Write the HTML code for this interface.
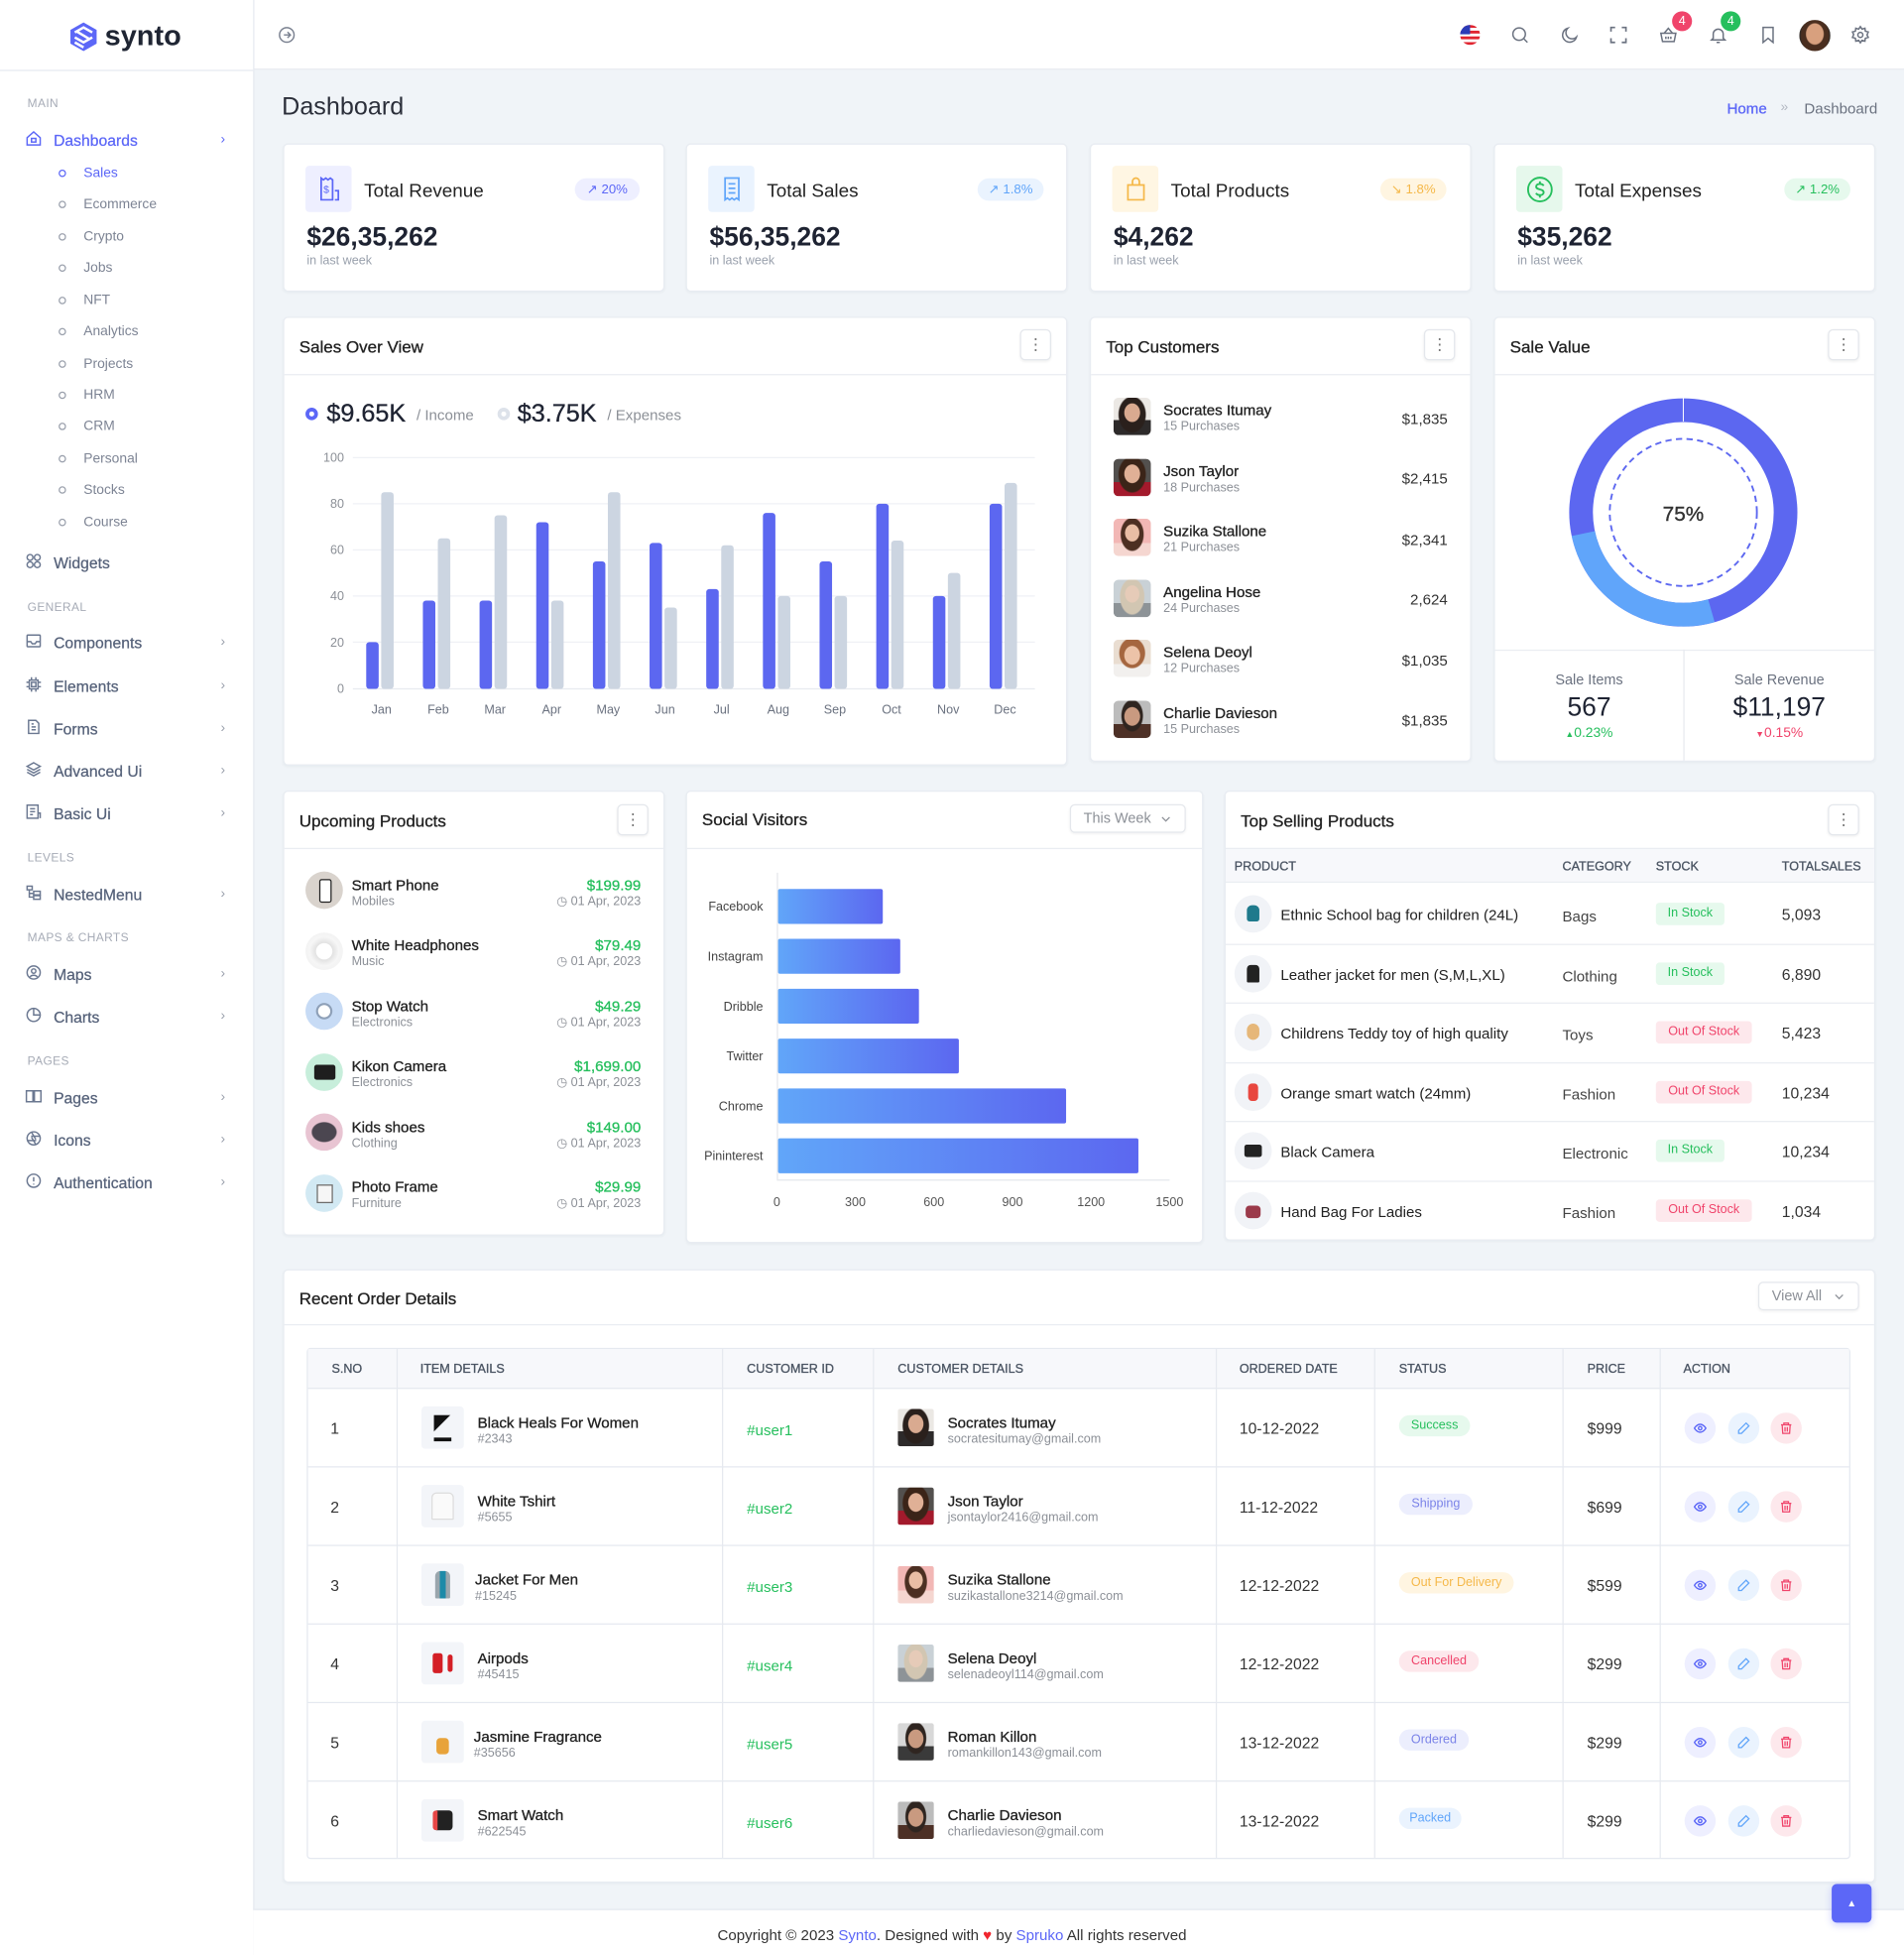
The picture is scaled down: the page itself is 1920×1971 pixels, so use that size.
<!DOCTYPE html>
<html><head><meta charset="utf-8">
<style>
html,body{margin:0;padding:0;width:1920px;height:1971px;overflow:hidden;background:#f0f4f8}
#w{position:absolute;left:0;top:0;width:1527px;height:1568px;transform:scale(1.25737,1.25702);transform-origin:0 0;font-family:"Liberation Sans",Arial,sans-serif;background:#f0f4f8;color:#222;overflow:hidden}
.a{position:absolute}
.t{position:absolute;white-space:nowrap;line-height:1;margin-top:1.6px}
.m{-webkit-text-stroke:.25px currentColor}
.g{color:#8c9097}
.card{position:absolute;background:#fff;border:1px solid #e8ecf2;border-radius:4px;box-sizing:border-box;box-shadow:0 1px 2px rgba(30,40,60,.04)}
.hl{position:absolute;height:1px;background:#eaedf2}
.vl{position:absolute;width:1px;background:#e6e9ef}
.btn{position:absolute;width:25px;height:25px;box-sizing:border-box;border:1px solid #e4e7ec;border-radius:4px;background:#fff;box-shadow:0 1px 2px rgba(0,0,0,.06);display:flex;align-items:center;justify-content:center;color:#777;font-size:13px;line-height:1}
.pill{position:absolute;display:flex;align-items:center;justify-content:center;border-radius:9px;font-size:10px;line-height:1;white-space:nowrap}
.sq{position:absolute;border-radius:3px;display:flex;align-items:center;justify-content:center}
.av{position:absolute;border-radius:4px;overflow:hidden}
.ci{position:absolute;border-radius:50%;overflow:hidden}
.ic{position:absolute}
.sbh{position:absolute;left:22px;font-size:9.5px;color:#a6abb6;letter-spacing:.3px;line-height:1;white-space:nowrap;margin-top:1.5px}
.sbi{position:absolute;left:43px;font-size:12.5px;color:#56627a;line-height:1;white-space:nowrap;-webkit-text-stroke:.2px currentColor;margin-top:1.5px}
.sbs{position:absolute;left:67px;font-size:11px;color:#7d8494;line-height:1;white-space:nowrap;margin-top:1.5px}
.dot{position:absolute;left:47px;width:4px;height:4px;border:1px solid #9aa0ac;border-radius:50%;margin-top:1px}
.chev{position:absolute;left:177px;font-size:11px;color:#9aa0ac;line-height:1;margin-top:1.5px}
.act{position:absolute;width:25px;height:25px;border-radius:50%;display:flex;align-items:center;justify-content:center}
</style></head><body>
<div id="w">

<!-- HEADER -->
<div class="a" style="left:0;top:0;width:1527px;height:56px;background:#fff;border-bottom:1px solid #e6eaf0;box-sizing:border-box"></div>
<!-- SIDEBAR -->
<div class="a" style="left:0;top:0;width:204px;height:1568px;background:#fff;border-right:1px solid #e6eaf0;box-sizing:border-box"></div>
<div class="a" style="left:0;top:56px;width:203px;height:1px;background:#e6eaf0"></div>

<!-- logo -->
<svg class="ic" style="left:55px;top:17px" width="24" height="25" viewBox="0 0 24 25">
<path d="M12 1L22.5 7v11L12 24 1.5 18V7z" fill="#5c67f7"/>
<path d="M5 9l7-4 7 4M5 13l7 4 7-4M5 17l7 4" stroke="#fff" stroke-width="2" fill="none"/>
<path d="M7 8.5l10 6" stroke="#fff" stroke-width="2"/>
</svg>
<div class="t" style="left:84px;top:15.5px;font-size:23px;font-weight:bold;color:#1f2533">synto</div>

<svg class="ic" style="left:223px;top:21px" width="14" height="14" viewBox="0 0 24 24" fill="none" stroke="#7a8190" stroke-width="2"><circle cx="12" cy="12" r="10"/><path d="M8 12h8M13 8l4 4-4 4"/></svg>

<!-- header right icons -->
<svg class="ic" style="left:1170px;top:19px" width="18" height="18" viewBox="0 0 18 18">
<defs><clipPath id="fc"><circle cx="9" cy="9" r="8"/></clipPath></defs>
<g clip-path="url(#fc)"><rect width="18" height="18" fill="#fff"/><rect y="1" width="18" height="2.3" fill="#e0242f"/><rect y="5.6" width="18" height="2.3" fill="#e0242f"/><rect y="10.2" width="18" height="2.3" fill="#e0242f"/><rect y="14.8" width="18" height="2.3" fill="#e0242f"/><rect width="9" height="8.5" fill="#2b3bb8"/></g></svg>
<svg class="ic" style="left:1211px;top:20px" width="16" height="16" viewBox="0 0 24 24" fill="none" stroke="#6b7280" stroke-width="1.8"><circle cx="11" cy="11" r="7.5"/><path d="M17 17l4 4"/></svg>
<svg class="ic" style="left:1251px;top:20px" width="16" height="16" viewBox="0 0 24 24" fill="none" stroke="#6b7280" stroke-width="1.8"><path d="M20 14.5A8.5 8.5 0 119.5 4a7 7 0 0010.5 10.5z"/></svg>
<svg class="ic" style="left:1290px;top:20px" width="16" height="16" viewBox="0 0 24 24" fill="none" stroke="#6b7280" stroke-width="2"><path d="M3 8V3h5M16 3h5v5M21 16v5h-5M8 21H3v-5"/></svg>
<svg class="ic" style="left:1330px;top:20px" width="16" height="16" viewBox="0 0 24 24" fill="none" stroke="#6b7280" stroke-width="1.8"><path d="M3 10h18l-2 10H5z"/><path d="M7 10l5-6 5 6M9 14v3M12 14v3M15 14v3"/></svg>
<div class="ci" style="left:1341px;top:9px;width:16px;height:16px;background:#f0446b;color:#fff;font-size:10px;display:flex;align-items:center;justify-content:center">4</div>
<svg class="ic" style="left:1370px;top:20px" width="16" height="16" viewBox="0 0 24 24" fill="none" stroke="#6b7280" stroke-width="1.8"><path d="M6 16V11a6 6 0 0112 0v5l2 2H4z"/><path d="M10 21h4"/></svg>
<div class="ci" style="left:1380px;top:9px;width:16px;height:16px;background:#26bf5d;color:#fff;font-size:10px;display:flex;align-items:center;justify-content:center">4</div>
<svg class="ic" style="left:1410px;top:20px" width="16" height="16" viewBox="0 0 24 24" fill="none" stroke="#6b7280" stroke-width="1.8"><path d="M6 3h12v18l-6-5-6 5z"/></svg>
<div class="ci" style="left:1443px;top:16px;width:25px;height:25px;background:radial-gradient(ellipse 30% 36% at 50% 45%,#d8a07e 90%,transparent 100%),radial-gradient(ellipse 48% 60% at 50% 50%,#4a2e1f 90%,transparent 100%),#2f2a26"></div>
<svg class="ic" style="left:1484px;top:20px" width="16" height="16" viewBox="0 0 24 24" fill="none" stroke="#6b7280" stroke-width="1.8"><circle cx="12" cy="12" r="3"/><path d="M12 2l2 3 3.5-1 .5 3.5 3.5 1-1.5 3.5 1.5 3-3.5 1-.5 3.5-3.5-1-2 3-2-3-3.5 1-.5-3.5-3.5-1 1.5-3.5L2.5 8.5 6 7.5 6.5 4 10 5z"/></svg>

<!-- SIDEBAR MENU -->
<div class="sbh" style="top:77px">MAIN</div>
<svg class="ic" style="left:20px;top:104px" width="14" height="14" viewBox="0 0 24 24" fill="none" stroke="#5c67f7" stroke-width="2"><path d="M3 11l9-8 9 8v10H3z"/><rect x="9" y="12" width="6" height="5"/></svg>
<div class="sbi" style="top:105px;color:#5c67f7">Dashboards</div>
<div class="chev" style="top:105px;color:#5c67f7">›</div>

<div class="dot" style="top:135px;border-color:#5c67f7"></div><div class="sbs" style="top:132px;color:#5c67f7">Sales</div>
<div class="dot" style="top:160px"></div><div class="sbs" style="top:157px">Ecommerce</div>
<div class="dot" style="top:186px"></div><div class="sbs" style="top:183px">Crypto</div>
<div class="dot" style="top:211px"></div><div class="sbs" style="top:208px">Jobs</div>
<div class="dot" style="top:237px"></div><div class="sbs" style="top:234px">NFT</div>
<div class="dot" style="top:262px"></div><div class="sbs" style="top:259px">Analytics</div>
<div class="dot" style="top:288px"></div><div class="sbs" style="top:285px">Projects</div>
<div class="dot" style="top:313px"></div><div class="sbs" style="top:310px">HRM</div>
<div class="dot" style="top:338px"></div><div class="sbs" style="top:335px">CRM</div>
<div class="dot" style="top:364px"></div><div class="sbs" style="top:361px">Personal</div>
<div class="dot" style="top:389px"></div><div class="sbs" style="top:386px">Stocks</div>
<div class="dot" style="top:415px"></div><div class="sbs" style="top:412px">Course</div>

<svg class="ic" style="left:20px;top:443px" width="14" height="14" viewBox="0 0 24 24" fill="none" stroke="#6b7891" stroke-width="2"><circle cx="7" cy="7" r="4"/><circle cx="17" cy="7" r="4"/><circle cx="7" cy="17" r="4"/><circle cx="17" cy="17" r="4"/></svg>
<div class="sbi" style="top:444px">Widgets</div>

<div class="sbh" style="top:481px">GENERAL</div>
<svg class="ic" style="left:20px;top:507px" width="14" height="14" viewBox="0 0 24 24" fill="none" stroke="#6b7891" stroke-width="2"><rect x="3" y="4" width="18" height="16" rx="1"/><path d="M3 13h5l2 3h4l2-3h5"/></svg>
<div class="sbi" style="top:508px">Components</div><div class="chev" style="top:508px">›</div>
<svg class="ic" style="left:20px;top:542px" width="14" height="14" viewBox="0 0 24 24" fill="none" stroke="#6b7891" stroke-width="2"><rect x="6" y="6" width="12" height="12"/><rect x="9" y="9" width="6" height="6"/><path d="M9 2v4M15 2v4M9 18v4M15 18v4M2 9h4M2 15h4M18 9h4M18 15h4"/></svg>
<div class="sbi" style="top:543px">Elements</div><div class="chev" style="top:543px">›</div>
<svg class="ic" style="left:20px;top:576px" width="14" height="14" viewBox="0 0 24 24" fill="none" stroke="#6b7891" stroke-width="2"><path d="M5 3h10l4 4v14H5z"/><path d="M9 12h6M9 16h6M9 8h3"/></svg>
<div class="sbi" style="top:577px">Forms</div><div class="chev" style="top:577px">›</div>
<svg class="ic" style="left:20px;top:610px" width="14" height="14" viewBox="0 0 24 24" fill="none" stroke="#6b7891" stroke-width="2"><path d="M12 3l9 5-9 5-9-5z"/><path d="M3 12l9 5 9-5M3 16l9 5 9-5"/></svg>
<div class="sbi" style="top:611px">Advanced Ui</div><div class="chev" style="top:611px">›</div>
<svg class="ic" style="left:20px;top:644px" width="14" height="14" viewBox="0 0 24 24" fill="none" stroke="#6b7891" stroke-width="2"><rect x="3" y="3" width="15" height="18"/><path d="M7 8h7M7 12h7M7 16h4M18 14h3v7"/></svg>
<div class="sbi" style="top:645px">Basic Ui</div><div class="chev" style="top:645px">›</div>

<div class="sbh" style="top:682px">LEVELS</div>
<svg class="ic" style="left:20px;top:709px" width="14" height="14" viewBox="0 0 24 24" fill="none" stroke="#6b7891" stroke-width="2"><rect x="3" y="3" width="7" height="5"/><path d="M6 8v10h6M6 13h6"/><rect x="12" y="10" width="9" height="5"/><rect x="12" y="16" width="9" height="5"/></svg>
<div class="sbi" style="top:710px">NestedMenu</div><div class="chev" style="top:710px">›</div>

<div class="sbh" style="top:746px">MAPS &amp; CHARTS</div>
<svg class="ic" style="left:20px;top:773px" width="14" height="14" viewBox="0 0 24 24" fill="none" stroke="#6b7891" stroke-width="2"><circle cx="12" cy="12" r="9"/><circle cx="12" cy="10" r="3"/><path d="M7 18c2-3 8-3 10 0"/></svg>
<div class="sbi" style="top:774px">Maps</div><div class="chev" style="top:774px">›</div>
<svg class="ic" style="left:20px;top:807px" width="14" height="14" viewBox="0 0 24 24" fill="none" stroke="#6b7891" stroke-width="2"><circle cx="12" cy="12" r="9"/><path d="M12 3v9h9"/></svg>
<div class="sbi" style="top:808px">Charts</div><div class="chev" style="top:808px">›</div>

<div class="sbh" style="top:845px">PAGES</div>
<svg class="ic" style="left:20px;top:872px" width="14" height="14" viewBox="0 0 24 24" fill="none" stroke="#6b7891" stroke-width="2"><path d="M2 5h9v15H2zM13 5h9v15h-9z"/></svg>
<div class="sbi" style="top:873px">Pages</div><div class="chev" style="top:873px">›</div>
<svg class="ic" style="left:20px;top:906px" width="14" height="14" viewBox="0 0 24 24" fill="none" stroke="#6b7891" stroke-width="2"><circle cx="12" cy="12" r="9"/><path d="M9 3.5l6 10M20.5 9H8.5M15 20.5l-6-10M3.5 15h12"/></svg>
<div class="sbi" style="top:907px">Icons</div><div class="chev" style="top:907px">›</div>
<svg class="ic" style="left:20px;top:940px" width="14" height="14" viewBox="0 0 24 24" fill="none" stroke="#6b7891" stroke-width="2"><circle cx="12" cy="12" r="9"/><path d="M12 7v6M12 16v1.5"/></svg>
<div class="sbi" style="top:941px">Authentication</div><div class="chev" style="top:941px">›</div>

<!-- PAGE TITLE -->
<div class="t" style="left:226px;top:74px;font-size:20px;color:#2b2f3a">Dashboard</div>
<div class="t m" style="left:1385px;top:79px;font-size:12px;color:#5c67f7">Home</div>
<div class="t" style="left:1428px;top:79px;font-size:11px;color:#b3b8c2">»</div>
<div class="t" style="left:1447px;top:79px;font-size:12px;color:#6b7280">Dashboard</div>

<!-- STAT CARDS -->
<div class="card" style="left:227px;top:115px;width:306px;height:119px"></div>
<div class="card" style="left:550px;top:115px;width:306px;height:119px"></div>
<div class="card" style="left:874px;top:115px;width:306px;height:119px"></div>
<div class="card" style="left:1198px;top:115px;width:306px;height:119px"></div>

<div class="sq" style="left:245px;top:133px;width:37px;height:37px;background:#eeefff">
<svg width="22" height="22" viewBox="0 0 24 24" fill="none" stroke="#5c67f7" stroke-width="1.5"><path d="M5 2l2 1.5 2-1.5 2 1.5 2-1.5 2 1.5V21H5z"/><path d="M17 13h3v8h-3"/><text x="7" y="15" font-size="9" fill="#5c67f7" stroke="none" font-family="Liberation Sans">$</text></svg></div>
<div class="sq" style="left:568px;top:133px;width:37px;height:37px;background:#eaf3fe">
<svg width="22" height="22" viewBox="0 0 24 24" fill="none" stroke="#60a5fa" stroke-width="1.5"><path d="M6 2h12v19l-2-1.5-2 1.5-2-1.5-2 1.5-2-1.5-2 1.5z"/><path d="M9 7h6M9 11h6M9 15h6"/></svg></div>
<div class="sq" style="left:892px;top:133px;width:37px;height:37px;background:#fff6e3">
<svg width="22" height="22" viewBox="0 0 24 24" fill="none" stroke="#f5b849" stroke-width="1.5"><path d="M5 8h14v13H5z"/><path d="M9 8V5a3 3 0 016 0v3"/></svg></div>
<div class="sq" style="left:1216px;top:133px;width:37px;height:37px;background:#e6f8ec">
<svg width="24" height="24" viewBox="0 0 24 24" fill="none" stroke="#26bf5d" stroke-width="1.5"><circle cx="12" cy="12" r="9.5"/><path d="M15 9c-.5-1-1.6-1.5-3-1.5-1.8 0-3 .9-3 2.2 0 3 6 1.5 6 4.6 0 1.3-1.3 2.2-3 2.2-1.5 0-2.6-.6-3.1-1.6M12 5.5v2M12 16.5v2"/></svg></div>

<div class="t" style="left:292px;top:144px;font-size:15px;color:#222">Total Revenue</div>
<div class="t" style="left:615px;top:144px;font-size:15px;color:#222">Total Sales</div>
<div class="t" style="left:939px;top:144px;font-size:15px;color:#222">Total Products</div>
<div class="t" style="left:1263px;top:144px;font-size:15px;color:#222">Total Expenses</div>

<div class="pill" style="left:461px;top:143px;width:52px;height:18px;background:#eeefff;color:#5c67f7;font-size:10.5px">↗ 20%</div>
<div class="pill" style="left:784px;top:143px;width:53px;height:18px;background:#eaf3fe;color:#60a5fa;font-size:10.5px">↗ 1.8%</div>
<div class="pill" style="left:1107px;top:143px;width:53px;height:18px;background:#fff5e1;color:#f5b849;font-size:10.5px">↘ 1.8%</div>
<div class="pill" style="left:1431px;top:143px;width:53px;height:18px;background:#e6f9ed;color:#26bf5d;font-size:10.5px">↗ 1.2%</div>

<div class="t" style="left:246px;top:178px;font-size:21px;font-weight:bold;color:#1e2332">$26,35,262</div>
<div class="t" style="left:569px;top:178px;font-size:21px;font-weight:bold;color:#1e2332">$56,35,262</div>
<div class="t" style="left:893px;top:178px;font-size:21px;font-weight:bold;color:#1e2332">$4,262</div>
<div class="t" style="left:1217px;top:178px;font-size:21px;font-weight:bold;color:#1e2332">$35,262</div>
<div class="t" style="left:246px;top:203px;font-size:10px;color:#9aa1ad">in last week</div>
<div class="t" style="left:569px;top:203px;font-size:10px;color:#9aa1ad">in last week</div>
<div class="t" style="left:893px;top:203px;font-size:10px;color:#9aa1ad">in last week</div>
<div class="t" style="left:1217px;top:203px;font-size:10px;color:#9aa1ad">in last week</div>

<!-- ROW 2 CARDS -->
<div class="card" style="left:227px;top:254px;width:629px;height:360px"></div>
<div class="card" style="left:874px;top:254px;width:306px;height:357px"></div>
<div class="card" style="left:1198px;top:254px;width:306px;height:357px"></div>
<div class="hl" style="left:228px;top:300px;width:627px"></div>
<div class="hl" style="left:875px;top:300px;width:304px"></div>
<div class="hl" style="left:1199px;top:300px;width:304px"></div>

<div class="t m" style="left:240px;top:270px;font-size:13.5px;color:#222">Sales Over View</div>
<div class="t m" style="left:887px;top:270px;font-size:13.5px;color:#222">Top Customers</div>
<div class="t m" style="left:1211px;top:270px;font-size:13.5px;color:#222">Sale Value</div>
<div class="btn" style="left:818px;top:264px">⋮</div>
<div class="btn" style="left:1142px;top:264px">⋮</div>
<div class="btn" style="left:1466px;top:264px">⋮</div>

<!-- legend -->
<div class="a" style="left:245px;top:327px;width:4px;height:4px;border:3px solid #5c67f7;border-radius:50%"></div>
<div class="t m" style="left:262px;top:320px;font-size:20px;color:#1e2332">$9.65K</div>
<div class="t" style="left:334px;top:325px;font-size:12px;color:#8c9097">/ Income</div>
<div class="a" style="left:399px;top:327px;width:4px;height:4px;border:3px solid #dde2ea;border-radius:50%"></div>
<div class="t m" style="left:415px;top:320px;font-size:20px;color:#1e2332">$3.75K</div>
<div class="t" style="left:487px;top:325px;font-size:12px;color:#8c9097">/ Expenses</div>

<!-- customers -->
<div class="av" style="left:893px;top:319px;width:30px;height:30px;background:radial-gradient(ellipse 22% 26% at 50% 40%,#d9aa90 92%,transparent 100%),radial-gradient(ellipse 38% 50% at 50% 45%,#2a201c 92%,transparent 100%),linear-gradient(#ebe8e4 60%,#2d2a2a 60%)"></div>
<div class="av" style="left:893px;top:368px;width:30px;height:30px;background:radial-gradient(ellipse 22% 26% at 50% 40%,#e0b096 92%,transparent 100%),radial-gradient(ellipse 38% 50% at 50% 42%,#3b2418 92%,transparent 100%),linear-gradient(#53504e 62%,#a31a2c 62%)"></div>
<div class="av" style="left:893px;top:416px;width:30px;height:30px;background:radial-gradient(ellipse 20% 24% at 50% 38%,#e9bea5 92%,transparent 100%),radial-gradient(ellipse 32% 46% at 50% 42%,#4c2f22 92%,transparent 100%),linear-gradient(#f2b7b5 65%,#f5d6d0 65%)"></div>
<div class="av" style="left:893px;top:465px;width:30px;height:30px;background:radial-gradient(ellipse 20% 24% at 50% 38%,#e6cbb8 92%,transparent 100%),radial-gradient(ellipse 34% 50% at 50% 45%,#d2c6b2 92%,transparent 100%),linear-gradient(#c9d1d6 62%,#8d9397 62%)"></div>
<div class="av" style="left:893px;top:513px;width:30px;height:30px;background:radial-gradient(ellipse 22% 26% at 50% 42%,#ecc3a8 92%,transparent 100%),radial-gradient(ellipse 36% 42% at 50% 36%,#a5663f 92%,transparent 100%),linear-gradient(#e9ddd1 65%,#f2f0ee 65%)"></div>
<div class="av" style="left:893px;top:562px;width:30px;height:30px;background:radial-gradient(ellipse 22% 26% at 50% 42%,#c99a80 92%,transparent 100%),radial-gradient(ellipse 30% 44% at 50% 40%,#2f2520 92%,transparent 100%),linear-gradient(#bcbcbc 62%,#4d3026 62%)"></div>

<div class="t m" style="left:933px;top:321px;font-size:12px;color:#222">Socrates Itumay</div>
<div class="t g" style="left:933px;top:336px;font-size:10px">15 Purchases</div>
<div class="t m" style="left:933px;top:370px;font-size:12px;color:#222">Json Taylor</div>
<div class="t g" style="left:933px;top:385px;font-size:10px">18 Purchases</div>
<div class="t m" style="left:933px;top:418px;font-size:12px;color:#222">Suzika Stallone</div>
<div class="t g" style="left:933px;top:433px;font-size:10px">21 Purchases</div>
<div class="t m" style="left:933px;top:467px;font-size:12px;color:#222">Angelina Hose</div>
<div class="t g" style="left:933px;top:482px;font-size:10px">24 Purchases</div>
<div class="t m" style="left:933px;top:515px;font-size:12px;color:#222">Selena Deoyl</div>
<div class="t g" style="left:933px;top:530px;font-size:10px">12 Purchases</div>
<div class="t m" style="left:933px;top:564px;font-size:12px;color:#222">Charlie Davieson</div>
<div class="t g" style="left:933px;top:579px;font-size:10px">15 Purchases</div>

<div class="t" style="right:366px;top:328px;font-size:12px;color:#333">$1,835</div>
<div class="t" style="right:366px;top:376px;font-size:12px;color:#333">$2,415</div>
<div class="t" style="right:366px;top:425px;font-size:12px;color:#333">$2,341</div>
<div class="t" style="right:366px;top:473px;font-size:12px;color:#333">2,624</div>
<div class="t" style="right:366px;top:522px;font-size:12px;color:#333">$1,035</div>
<div class="t" style="right:366px;top:570px;font-size:12px;color:#333">$1,835</div>

<!-- sale value bottom -->
<div class="hl" style="left:1199px;top:521px;width:304px"></div>
<div class="vl" style="left:1350px;top:521px;height:89px"></div>
<div class="t" style="left:1199px;width:151px;text-align:center;top:539px;font-size:11.5px;color:#6b7280">Sale Items</div>
<div class="t" style="left:1199px;width:151px;text-align:center;top:555px;font-size:21px;color:#1e2332">567</div>
<div class="t" style="left:1199px;width:151px;text-align:center;top:581px;font-size:11px;color:#26bf5d"><span style="font-size:7px">▲</span>0.23%</div>
<div class="t" style="left:1351px;width:152px;text-align:center;top:539px;font-size:11.5px;color:#6b7280">Sale Revenue</div>
<div class="t" style="left:1351px;width:152px;text-align:center;top:555px;font-size:21px;color:#1e2332">$11,197</div>
<div class="t" style="left:1351px;width:152px;text-align:center;top:581px;font-size:11px;color:#f0446b"><span style="font-size:7px">▼</span>0.15%</div>

<!-- ROW 3 CARDS -->
<div class="card" style="left:227px;top:634px;width:306px;height:357px"></div>
<div class="card" style="left:550px;top:634px;width:415px;height:363px"></div>
<div class="card" style="left:982px;top:634px;width:522px;height:361px"></div>
<div class="hl" style="left:228px;top:680px;width:304px"></div>
<div class="hl" style="left:551px;top:680px;width:413px"></div>

<div class="t m" style="left:240px;top:650px;font-size:13.5px;color:#222">Upcoming Products</div>
<div class="t m" style="left:563px;top:649px;font-size:13.5px;color:#222">Social Visitors</div>
<div class="t m" style="left:995px;top:650px;font-size:13.5px;color:#222">Top Selling Products</div>
<div class="btn" style="left:495px;top:645px">⋮</div>
<div class="btn" style="left:1466px;top:645px">⋮</div>
<div class="a" style="left:858px;top:645px;width:93px;height:23px;border:1px solid #e4e7ec;border-radius:4px;box-sizing:border-box;box-shadow:0 1px 2px rgba(0,0,0,.05)"></div>
<div class="t" style="left:869px;top:650px;font-size:11.5px;color:#8c9097">This Week</div>
<svg class="ic" style="left:931px;top:654px" width="8" height="6" viewBox="0 0 8 6"><path d="M1 1.5l3 3 3-3" stroke="#8c9097" fill="none" stroke-width="1"/></svg>

<!-- upcoming items -->
<div class="ci" style="left:245px;top:699px;width:30px;height:30px;background:#d9d3cd"><div class="a" style="left:11px;top:6px;width:8px;height:17px;background:#fff;border:1.5px solid #222;border-radius:2px"></div></div>
<div class="ci" style="left:245px;top:748px;width:30px;height:30px;background:radial-gradient(circle at 50% 50%,#fff 30%,#e2e2e2 32%,#f6f6f6 55%,#ececec 100%)"></div>
<div class="ci" style="left:245px;top:796px;width:30px;height:30px;background:radial-gradient(circle at 50% 50%,#fff 22%,#8ea0b8 24%,#8ea0b8 30%,#c7dbf5 32%)"></div>
<div class="ci" style="left:245px;top:845px;width:30px;height:30px;background:#c7eedb"><div class="a" style="left:7px;top:9px;width:17px;height:12px;background:#1e1e1e;border-radius:2px"></div></div>
<div class="ci" style="left:245px;top:893px;width:30px;height:30px;background:radial-gradient(ellipse 35% 28% at 50% 50%,#4b4650 90%,transparent 100%),#e8c4d2"></div>
<div class="ci" style="left:245px;top:942px;width:30px;height:30px;background:#d2e9f3"><div class="a" style="left:9px;top:8px;width:11px;height:13px;border:1.5px solid #6b6b6b;background:#f6f6f6"></div></div>

<div class="t m" style="left:282px;top:702px;font-size:12px;color:#222">Smart Phone</div>
<div class="t g" style="left:282px;top:717px;font-size:10px">Mobiles</div>
<div class="t m" style="left:282px;top:750px;font-size:12px;color:#222">White Headphones</div>
<div class="t g" style="left:282px;top:765px;font-size:10px">Music</div>
<div class="t m" style="left:282px;top:799px;font-size:12px;color:#222">Stop Watch</div>
<div class="t g" style="left:282px;top:814px;font-size:10px">Electronics</div>
<div class="t m" style="left:282px;top:847px;font-size:12px;color:#222">Kikon Camera</div>
<div class="t g" style="left:282px;top:862px;font-size:10px">Electronics</div>
<div class="t m" style="left:282px;top:896px;font-size:12px;color:#222">Kids shoes</div>
<div class="t g" style="left:282px;top:911px;font-size:10px">Clothing</div>
<div class="t m" style="left:282px;top:944px;font-size:12px;color:#222">Photo Frame</div>
<div class="t g" style="left:282px;top:959px;font-size:10px">Furniture</div>

<div class="t m" style="right:1013px;top:702px;font-size:12px;color:#26bf5d">$199.99</div>
<div class="t m" style="right:1013px;top:750px;font-size:12px;color:#26bf5d">$79.49</div>
<div class="t m" style="right:1013px;top:799px;font-size:12px;color:#26bf5d">$49.29</div>
<div class="t m" style="right:1013px;top:847px;font-size:12px;color:#26bf5d">$1,699.00</div>
<div class="t m" style="right:1013px;top:896px;font-size:12px;color:#26bf5d">$149.00</div>
<div class="t m" style="right:1013px;top:944px;font-size:12px;color:#26bf5d">$29.99</div>
<div class="t g" style="right:1013px;top:717px;font-size:10px">◷ 01 Apr, 2023</div>
<div class="t g" style="right:1013px;top:765px;font-size:10px">◷ 01 Apr, 2023</div>
<div class="t g" style="right:1013px;top:814px;font-size:10px">◷ 01 Apr, 2023</div>
<div class="t g" style="right:1013px;top:862px;font-size:10px">◷ 01 Apr, 2023</div>
<div class="t g" style="right:1013px;top:911px;font-size:10px">◷ 01 Apr, 2023</div>
<div class="t g" style="right:1013px;top:959px;font-size:10px">◷ 01 Apr, 2023</div>

<!-- top selling table -->
<div class="a" style="left:983px;top:680px;width:520px;height:28px;background:#f7f8fb;border-top:1px solid #eaedf2;border-bottom:1px solid #eaedf2;box-sizing:border-box"></div>
<div class="t m" style="left:990px;top:689px;font-size:10px;color:#4b5563">PRODUCT</div>
<div class="t m" style="left:1253px;top:689px;font-size:10px;color:#4b5563">CATEGORY</div>
<div class="t m" style="left:1328px;top:689px;font-size:10px;color:#4b5563">STOCK</div>
<div class="t m" style="left:1429px;top:689px;font-size:10px;color:#4b5563">TOTALSALES</div>
<div class="hl" style="left:983px;top:757px;width:520px"></div>
<div class="hl" style="left:983px;top:804px;width:520px"></div>
<div class="hl" style="left:983px;top:852px;width:520px"></div>
<div class="hl" style="left:983px;top:899px;width:520px"></div>
<div class="hl" style="left:983px;top:947px;width:520px"></div>

<div class="ci" style="left:990px;top:718px;width:30px;height:30px;background:#f1f3f7"><div class="a" style="left:10px;top:8px;width:10px;height:13px;background:#1f7a8c;border-radius:4px 4px 2px 2px"></div></div>
<div class="ci" style="left:990px;top:766px;width:30px;height:30px;background:#f1f3f7"><div class="a" style="left:10px;top:8px;width:10px;height:14px;background:#222;border-radius:3px 3px 1px 1px"></div></div>
<div class="ci" style="left:990px;top:813px;width:30px;height:30px;background:#f1f3f7"><div class="a" style="left:10px;top:8px;width:10px;height:13px;background:#e6b779;border-radius:5px"></div></div>
<div class="ci" style="left:990px;top:861px;width:30px;height:30px;background:#f1f3f7"><div class="a" style="left:11px;top:8px;width:8px;height:14px;background:#e8473f;border-radius:3px"></div></div>
<div class="ci" style="left:990px;top:908px;width:30px;height:30px;background:#f1f3f7"><div class="a" style="left:8px;top:10px;width:14px;height:10px;background:#222;border-radius:2px"></div></div>
<div class="ci" style="left:990px;top:956px;width:30px;height:30px;background:#f1f3f7"><div class="a" style="left:9px;top:11px;width:12px;height:10px;background:#9b3a4a;border-radius:3px"></div></div>

<div class="t" style="left:1027px;top:726px;font-size:12px;color:#222">Ethnic School bag for children (24L)</div>
<div class="t" style="left:1027px;top:774px;font-size:12px;color:#222">Leather jacket for men (S,M,L,XL)</div>
<div class="t" style="left:1027px;top:821px;font-size:12px;color:#222">Childrens Teddy toy of high quality</div>
<div class="t" style="left:1027px;top:869px;font-size:12px;color:#222">Orange smart watch (24mm)</div>
<div class="t" style="left:1027px;top:916px;font-size:12px;color:#222">Black Camera</div>
<div class="t" style="left:1027px;top:964px;font-size:12px;color:#222">Hand Bag For Ladies</div>

<div class="t" style="left:1253px;top:727px;font-size:12px;color:#444">Bags</div>
<div class="t" style="left:1253px;top:775px;font-size:12px;color:#444">Clothing</div>
<div class="t" style="left:1253px;top:822px;font-size:12px;color:#444">Toys</div>
<div class="t" style="left:1253px;top:870px;font-size:12px;color:#444">Fashion</div>
<div class="t" style="left:1253px;top:917px;font-size:12px;color:#444">Electronic</div>
<div class="t" style="left:1253px;top:965px;font-size:12px;color:#444">Fashion</div>

<div class="pill" style="left:1328px;top:724px;width:55px;height:18px;border-radius:3px;background:#e6f9ed;color:#26bf5d">In Stock</div>
<div class="pill" style="left:1328px;top:772px;width:55px;height:18px;border-radius:3px;background:#e6f9ed;color:#26bf5d">In Stock</div>
<div class="pill" style="left:1328px;top:819px;width:77px;height:18px;border-radius:3px;background:#fde8ec;color:#f0446b">Out Of Stock</div>
<div class="pill" style="left:1328px;top:867px;width:77px;height:18px;border-radius:3px;background:#fde8ec;color:#f0446b">Out Of Stock</div>
<div class="pill" style="left:1328px;top:914px;width:55px;height:18px;border-radius:3px;background:#e6f9ed;color:#26bf5d">In Stock</div>
<div class="pill" style="left:1328px;top:962px;width:77px;height:18px;border-radius:3px;background:#fde8ec;color:#f0446b">Out Of Stock</div>

<div class="t" style="left:1429px;top:726px;font-size:12.5px;color:#333">5,093</div>
<div class="t" style="left:1429px;top:774px;font-size:12.5px;color:#333">6,890</div>
<div class="t" style="left:1429px;top:821px;font-size:12.5px;color:#333">5,423</div>
<div class="t" style="left:1429px;top:869px;font-size:12.5px;color:#333">10,234</div>
<div class="t" style="left:1429px;top:916px;font-size:12.5px;color:#333">10,234</div>
<div class="t" style="left:1429px;top:964px;font-size:12.5px;color:#333">1,034</div>

<!-- RECENT ORDERS -->
<div class="card" style="left:227px;top:1018px;width:1277px;height:492px"></div>
<div class="hl" style="left:228px;top:1062px;width:1275px"></div>
<div class="t m" style="left:240px;top:1033px;font-size:13.5px;color:#222">Recent Order Details</div>
<div class="a" style="left:1410px;top:1028px;width:81px;height:23px;border:1px solid #e4e7ec;border-radius:4px;box-sizing:border-box;box-shadow:0 1px 2px rgba(0,0,0,.05)"></div>
<div class="t" style="left:1421px;top:1033px;font-size:11.5px;color:#8c9097">View All</div>
<svg class="ic" style="left:1471px;top:1037px" width="8" height="6" viewBox="0 0 8 6"><path d="M1 1.5l3 3 3-3" stroke="#8c9097" fill="none" stroke-width="1"/></svg>

<div class="a" style="left:246px;top:1081px;width:1238px;height:410px;border:1px solid #e5e9f0;box-sizing:border-box;border-radius:3px"></div>
<div class="a" style="left:247px;top:1082px;width:1236px;height:31px;background:#f7f8fb"></div>
<div class="hl" style="left:247px;top:1113px;width:1236px;background:#e5e9f0"></div>
<div class="hl" style="left:247px;top:1176px;width:1236px;background:#e5e9f0"></div>
<div class="hl" style="left:247px;top:1239px;width:1236px;background:#e5e9f0"></div>
<div class="hl" style="left:247px;top:1302px;width:1236px;background:#e5e9f0"></div>
<div class="hl" style="left:247px;top:1365px;width:1236px;background:#e5e9f0"></div>
<div class="hl" style="left:247px;top:1428px;width:1236px;background:#e5e9f0"></div>
<div class="vl" style="left:318px;top:1082px;height:408px"></div>
<div class="vl" style="left:579px;top:1082px;height:408px"></div>
<div class="vl" style="left:700px;top:1082px;height:408px"></div>
<div class="vl" style="left:975px;top:1082px;height:408px"></div>
<div class="vl" style="left:1102px;top:1082px;height:408px"></div>
<div class="vl" style="left:1253px;top:1082px;height:408px"></div>
<div class="vl" style="left:1331px;top:1082px;height:408px"></div>

<div class="t m" style="left:266px;top:1092px;font-size:10px;color:#4b5563">S.NO</div>
<div class="t m" style="left:337px;top:1092px;font-size:10px;color:#4b5563">ITEM DETAILS</div>
<div class="t m" style="left:599px;top:1092px;font-size:10px;color:#4b5563">CUSTOMER ID</div>
<div class="t m" style="left:720px;top:1092px;font-size:10px;color:#4b5563">CUSTOMER DETAILS</div>
<div class="t m" style="left:994px;top:1092px;font-size:10px;color:#4b5563">ORDERED DATE</div>
<div class="t m" style="left:1122px;top:1092px;font-size:10px;color:#4b5563">STATUS</div>
<div class="t m" style="left:1273px;top:1092px;font-size:10px;color:#4b5563">PRICE</div>
<div class="t m" style="left:1350px;top:1092px;font-size:10px;color:#4b5563">ACTION</div>

<div class="t" style="left:265px;top:1138px;font-size:12.5px;color:#333">1</div>
<div class="t" style="left:265px;top:1201px;font-size:12.5px;color:#333">2</div>
<div class="t" style="left:265px;top:1264px;font-size:12.5px;color:#333">3</div>
<div class="t" style="left:265px;top:1327px;font-size:12.5px;color:#333">4</div>
<div class="t" style="left:265px;top:1390px;font-size:12.5px;color:#333">5</div>
<div class="t" style="left:265px;top:1453px;font-size:12.5px;color:#333">6</div>

<div class="sq" style="left:338px;top:1128px;width:34px;height:34px;background:#f3f5f9"><div style="width:14px;height:18px;background:linear-gradient(135deg,#111 40%,transparent 42%);border-bottom:3px solid #111"></div></div>
<div class="sq" style="left:338px;top:1191px;width:34px;height:34px;background:#f3f5f9"><div style="width:16px;height:20px;background:#fafafa;border:1px solid #ddd;border-radius:4px 4px 1px 1px"></div></div>
<div class="sq" style="left:338px;top:1254px;width:34px;height:34px;background:#f3f5f9"><div style="width:12px;height:22px;background:linear-gradient(90deg,#9aa6ad 0 30%,#1d8aa8 30% 70%,#9aa6ad 70%);border-radius:4px 4px 1px 1px"></div></div>
<div class="sq" style="left:338px;top:1317px;width:34px;height:34px;background:#f3f5f9"><div style="width:8px;height:16px;background:#d41f26;border-radius:2px;margin-right:4px"></div><div style="width:4px;height:14px;background:#d41f26;border-radius:2px"></div></div>
<div class="sq" style="left:338px;top:1380px;width:34px;height:34px;background:#f3f5f9"><div style="width:10px;height:13px;background:#e8a33a;border-radius:3px;margin-top:6px"></div></div>
<div class="sq" style="left:338px;top:1443px;width:34px;height:34px;background:#f3f5f9"><div style="width:12px;height:16px;background:#222;border-left:4px solid #e64646;border-radius:3px"></div></div>

<div class="t m" style="left:383px;top:1133px;font-size:12px;color:#222">Black Heals For Women</div>
<div class="t g" style="left:383px;top:1148px;font-size:10px">#2343</div>
<div class="t m" style="left:383px;top:1196px;font-size:12px;color:#222">White Tshirt</div>
<div class="t g" style="left:383px;top:1211px;font-size:10px">#5655</div>
<div class="t m" style="left:381px;top:1259px;font-size:12px;color:#222">Jacket For Men</div>
<div class="t g" style="left:381px;top:1274px;font-size:10px">#15245</div>
<div class="t m" style="left:383px;top:1322px;font-size:12px;color:#222">Airpods</div>
<div class="t g" style="left:383px;top:1337px;font-size:10px">#45415</div>
<div class="t m" style="left:380px;top:1385px;font-size:12px;color:#222">Jasmine Fragrance</div>
<div class="t g" style="left:380px;top:1400px;font-size:10px">#35656</div>
<div class="t m" style="left:383px;top:1448px;font-size:12px;color:#222">Smart Watch</div>
<div class="t g" style="left:383px;top:1463px;font-size:10px">#622545</div>

<div class="t" style="left:599px;top:1139px;font-size:12px;color:#26bf5d">#user1</div>
<div class="t" style="left:599px;top:1202px;font-size:12px;color:#26bf5d">#user2</div>
<div class="t" style="left:599px;top:1265px;font-size:12px;color:#26bf5d">#user3</div>
<div class="t" style="left:599px;top:1328px;font-size:12px;color:#26bf5d">#user4</div>
<div class="t" style="left:599px;top:1391px;font-size:12px;color:#26bf5d">#user5</div>
<div class="t" style="left:599px;top:1454px;font-size:12px;color:#26bf5d">#user6</div>

<div class="av" style="left:720px;top:1130px;width:29px;height:30px;border-radius:2px;background:radial-gradient(ellipse 22% 26% at 50% 40%,#d9aa90 92%,transparent 100%),radial-gradient(ellipse 38% 50% at 50% 45%,#2a201c 92%,transparent 100%),linear-gradient(#ebe8e4 60%,#2d2a2a 60%)"></div>
<div class="av" style="left:720px;top:1193px;width:29px;height:30px;border-radius:2px;background:radial-gradient(ellipse 22% 26% at 50% 40%,#e0b096 92%,transparent 100%),radial-gradient(ellipse 38% 50% at 50% 42%,#3b2418 92%,transparent 100%),linear-gradient(#53504e 62%,#a31a2c 62%)"></div>
<div class="av" style="left:720px;top:1256px;width:29px;height:30px;border-radius:2px;background:radial-gradient(ellipse 20% 24% at 50% 38%,#e9bea5 92%,transparent 100%),radial-gradient(ellipse 32% 46% at 50% 42%,#4c2f22 92%,transparent 100%),linear-gradient(#f2b7b5 65%,#f5d6d0 65%)"></div>
<div class="av" style="left:720px;top:1319px;width:29px;height:30px;border-radius:2px;background:radial-gradient(ellipse 20% 24% at 50% 38%,#e6cbb8 92%,transparent 100%),radial-gradient(ellipse 34% 50% at 50% 45%,#d2c6b2 92%,transparent 100%),linear-gradient(#c9d1d6 62%,#8d9397 62%)"></div>
<div class="av" style="left:720px;top:1382px;width:29px;height:30px;border-radius:2px;background:radial-gradient(ellipse 22% 26% at 50% 42%,#c99a80 92%,transparent 100%),radial-gradient(ellipse 30% 44% at 50% 40%,#2f2520 92%,transparent 100%),linear-gradient(#d8d8d8 62%,#3a3a3a 62%)"></div>
<div class="av" style="left:720px;top:1445px;width:29px;height:30px;border-radius:2px;background:radial-gradient(ellipse 22% 26% at 50% 42%,#c99a80 92%,transparent 100%),radial-gradient(ellipse 30% 44% at 50% 40%,#2f2520 92%,transparent 100%),linear-gradient(#bcbcbc 62%,#4d3026 62%)"></div>

<div class="t m" style="left:760px;top:1133px;font-size:12px;color:#222">Socrates Itumay</div>
<div class="t g" style="left:760px;top:1148px;font-size:10px">socratesitumay@gmail.com</div>
<div class="t m" style="left:760px;top:1196px;font-size:12px;color:#222">Json Taylor</div>
<div class="t g" style="left:760px;top:1211px;font-size:10px">jsontaylor2416@gmail.com</div>
<div class="t m" style="left:760px;top:1259px;font-size:12px;color:#222">Suzika Stallone</div>
<div class="t g" style="left:760px;top:1274px;font-size:10px">suzikastallone3214@gmail.com</div>
<div class="t m" style="left:760px;top:1322px;font-size:12px;color:#222">Selena Deoyl</div>
<div class="t g" style="left:760px;top:1337px;font-size:10px">selenadeoyl114@gmail.com</div>
<div class="t m" style="left:760px;top:1385px;font-size:12px;color:#222">Roman Killon</div>
<div class="t g" style="left:760px;top:1400px;font-size:10px">romankillon143@gmail.com</div>
<div class="t m" style="left:760px;top:1448px;font-size:12px;color:#222">Charlie Davieson</div>
<div class="t g" style="left:760px;top:1463px;font-size:10px">charliedavieson@gmail.com</div>

<div class="t" style="left:994px;top:1138px;font-size:12.5px;color:#333">10-12-2022</div>
<div class="t" style="left:994px;top:1201px;font-size:12.5px;color:#333">11-12-2022</div>
<div class="t" style="left:994px;top:1264px;font-size:12.5px;color:#333">12-12-2022</div>
<div class="t" style="left:994px;top:1327px;font-size:12.5px;color:#333">12-12-2022</div>
<div class="t" style="left:994px;top:1390px;font-size:12.5px;color:#333">13-12-2022</div>
<div class="t" style="left:994px;top:1453px;font-size:12.5px;color:#333">13-12-2022</div>

<div class="pill" style="left:1122px;top:1135px;width:57px;height:17px;background:#e6f9ed;color:#26bf5d">Success</div>
<div class="pill" style="left:1122px;top:1198px;width:59px;height:17px;background:#eceefd;color:#7b83e8">Shipping</div>
<div class="pill" style="left:1122px;top:1261px;width:92px;height:17px;background:#fff5e1;color:#f5b849">Out For Delivery</div>
<div class="pill" style="left:1122px;top:1324px;width:64px;height:17px;background:#fde8ec;color:#f0446b">Cancelled</div>
<div class="pill" style="left:1122px;top:1387px;width:56px;height:17px;background:#eceefd;color:#7b83e8">Ordered</div>
<div class="pill" style="left:1122px;top:1450px;width:50px;height:17px;background:#eaf3fe;color:#60a5fa">Packed</div>

<div class="t" style="left:1273px;top:1138px;font-size:12.5px;color:#333">$999</div>
<div class="t" style="left:1273px;top:1201px;font-size:12.5px;color:#333">$699</div>
<div class="t" style="left:1273px;top:1264px;font-size:12.5px;color:#333">$599</div>
<div class="t" style="left:1273px;top:1327px;font-size:12.5px;color:#333">$299</div>
<div class="t" style="left:1273px;top:1390px;font-size:12.5px;color:#333">$299</div>
<div class="t" style="left:1273px;top:1453px;font-size:12.5px;color:#333">$299</div>

<!-- action buttons -->
<div class="act" style="left:1351px;top:1133px;background:#eeefff"><svg width="11" height="11" viewBox="0 0 24 24" fill="none" stroke="#5c67f7" stroke-width="2.4"><path d="M2 12s4-7 10-7 10 7 10 7-4 7-10 7S2 12 2 12z"/><circle cx="12" cy="12" r="3"/></svg></div>
<div class="act" style="left:1386px;top:1133px;background:#eaf3fe"><svg width="11" height="11" viewBox="0 0 24 24" fill="none" stroke="#60a5fa" stroke-width="2.2"><path d="M16 3l5 5L8 21H3v-5z"/></svg></div>
<div class="act" style="left:1420px;top:1133px;background:#fde8ec"><svg width="11" height="11" viewBox="0 0 24 24" fill="none" stroke="#f0446b" stroke-width="2.2"><path d="M3 6h18M8 6V3h8v3M5 6l1 15h12l1-15M10 10v8M14 10v8"/></svg></div>
<div class="act" style="left:1351px;top:1196px;background:#eeefff"><svg width="11" height="11" viewBox="0 0 24 24" fill="none" stroke="#5c67f7" stroke-width="2.4"><path d="M2 12s4-7 10-7 10 7 10 7-4 7-10 7S2 12 2 12z"/><circle cx="12" cy="12" r="3"/></svg></div>
<div class="act" style="left:1386px;top:1196px;background:#eaf3fe"><svg width="11" height="11" viewBox="0 0 24 24" fill="none" stroke="#60a5fa" stroke-width="2.2"><path d="M16 3l5 5L8 21H3v-5z"/></svg></div>
<div class="act" style="left:1420px;top:1196px;background:#fde8ec"><svg width="11" height="11" viewBox="0 0 24 24" fill="none" stroke="#f0446b" stroke-width="2.2"><path d="M3 6h18M8 6V3h8v3M5 6l1 15h12l1-15M10 10v8M14 10v8"/></svg></div>
<div class="act" style="left:1351px;top:1259px;background:#eeefff"><svg width="11" height="11" viewBox="0 0 24 24" fill="none" stroke="#5c67f7" stroke-width="2.4"><path d="M2 12s4-7 10-7 10 7 10 7-4 7-10 7S2 12 2 12z"/><circle cx="12" cy="12" r="3"/></svg></div>
<div class="act" style="left:1386px;top:1259px;background:#eaf3fe"><svg width="11" height="11" viewBox="0 0 24 24" fill="none" stroke="#60a5fa" stroke-width="2.2"><path d="M16 3l5 5L8 21H3v-5z"/></svg></div>
<div class="act" style="left:1420px;top:1259px;background:#fde8ec"><svg width="11" height="11" viewBox="0 0 24 24" fill="none" stroke="#f0446b" stroke-width="2.2"><path d="M3 6h18M8 6V3h8v3M5 6l1 15h12l1-15M10 10v8M14 10v8"/></svg></div>
<div class="act" style="left:1351px;top:1322px;background:#eeefff"><svg width="11" height="11" viewBox="0 0 24 24" fill="none" stroke="#5c67f7" stroke-width="2.4"><path d="M2 12s4-7 10-7 10 7 10 7-4 7-10 7S2 12 2 12z"/><circle cx="12" cy="12" r="3"/></svg></div>
<div class="act" style="left:1386px;top:1322px;background:#eaf3fe"><svg width="11" height="11" viewBox="0 0 24 24" fill="none" stroke="#60a5fa" stroke-width="2.2"><path d="M16 3l5 5L8 21H3v-5z"/></svg></div>
<div class="act" style="left:1420px;top:1322px;background:#fde8ec"><svg width="11" height="11" viewBox="0 0 24 24" fill="none" stroke="#f0446b" stroke-width="2.2"><path d="M3 6h18M8 6V3h8v3M5 6l1 15h12l1-15M10 10v8M14 10v8"/></svg></div>
<div class="act" style="left:1351px;top:1385px;background:#eeefff"><svg width="11" height="11" viewBox="0 0 24 24" fill="none" stroke="#5c67f7" stroke-width="2.4"><path d="M2 12s4-7 10-7 10 7 10 7-4 7-10 7S2 12 2 12z"/><circle cx="12" cy="12" r="3"/></svg></div>
<div class="act" style="left:1386px;top:1385px;background:#eaf3fe"><svg width="11" height="11" viewBox="0 0 24 24" fill="none" stroke="#60a5fa" stroke-width="2.2"><path d="M16 3l5 5L8 21H3v-5z"/></svg></div>
<div class="act" style="left:1420px;top:1385px;background:#fde8ec"><svg width="11" height="11" viewBox="0 0 24 24" fill="none" stroke="#f0446b" stroke-width="2.2"><path d="M3 6h18M8 6V3h8v3M5 6l1 15h12l1-15M10 10v8M14 10v8"/></svg></div>
<div class="act" style="left:1351px;top:1448px;background:#eeefff"><svg width="11" height="11" viewBox="0 0 24 24" fill="none" stroke="#5c67f7" stroke-width="2.4"><path d="M2 12s4-7 10-7 10 7 10 7-4 7-10 7S2 12 2 12z"/><circle cx="12" cy="12" r="3"/></svg></div>
<div class="act" style="left:1386px;top:1448px;background:#eaf3fe"><svg width="11" height="11" viewBox="0 0 24 24" fill="none" stroke="#60a5fa" stroke-width="2.2"><path d="M16 3l5 5L8 21H3v-5z"/></svg></div>
<div class="act" style="left:1420px;top:1448px;background:#fde8ec"><svg width="11" height="11" viewBox="0 0 24 24" fill="none" stroke="#f0446b" stroke-width="2.2"><path d="M3 6h18M8 6V3h8v3M5 6l1 15h12l1-15M10 10v8M14 10v8"/></svg></div>

<!-- FOOTER -->
<div class="a" style="left:203px;top:1531px;width:1324px;height:37px;background:#fff;border-top:1px solid #e4e8ef;box-sizing:border-box"></div>
<div class="t" style="left:0;width:1527px;text-align:center;top:1544px;font-size:12px;color:#333">Copyright © 2023 <span style="color:#5c67f7">Synto</span>. Designed with <span style="color:#f0262f">♥</span> by <span style="color:#5c67f7">Spruko</span> All rights reserved</div>
<div class="a" style="left:1469px;top:1511px;width:32px;height:31px;background:#5c67f7;border-radius:4px;display:flex;align-items:center;justify-content:center;color:#fff;font-size:8px;box-shadow:0 2px 6px rgba(92,103,247,.3)">▲</div>

<!-- CHARTS OVERLAY -->
<svg class="a" style="left:0;top:0" width="1527" height="1568" viewBox="0 0 1527 1568" font-family="Liberation Sans, Arial, sans-serif">
<defs>
<linearGradient id="hg" x1="0" x2="1" y1="0" y2="0"><stop offset="0" stop-color="#61a6f9"/><stop offset="1" stop-color="#5c67f0"/></linearGradient>
</defs>
<g stroke="#eff1f5" stroke-width="1">
<line x1="283" y1="367" x2="830" y2="367"/><line x1="283" y1="404" x2="830" y2="404"/><line x1="283" y1="441" x2="830" y2="441"/><line x1="283" y1="478" x2="830" y2="478"/><line x1="283" y1="515" x2="830" y2="515"/><line x1="283" y1="552.5" x2="830" y2="552.5" stroke="#e8ebf0"/>
</g>
<g font-size="10" fill="#8c9097" text-anchor="end">
<text x="276" y="370.5">100</text><text x="276" y="407.5">80</text><text x="276" y="444.5">60</text><text x="276" y="481.5">40</text><text x="276" y="518.5">20</text><text x="276" y="555.5">0</text>
</g>
<g fill="#5c67f0">
<rect x="293.7" y="515" width="10" height="37.5" rx="2.5"/>
<rect x="339.15" y="481.7" width="10" height="70.8" rx="2.5"/>
<rect x="384.6" y="481.7" width="10" height="70.8" rx="2.5"/>
<rect x="430.05" y="418.8" width="10" height="133.7" rx="2.5"/>
<rect x="475.5" y="450.25" width="10" height="102.25" rx="2.5"/>
<rect x="520.95" y="435.45" width="10" height="117.05" rx="2.5"/>
<rect x="566.4" y="472.45" width="10" height="80.05" rx="2.5"/>
<rect x="611.85" y="411.4" width="10" height="141.1" rx="2.5"/>
<rect x="657.3" y="450.25" width="10" height="102.25" rx="2.5"/>
<rect x="702.75" y="404" width="10" height="148.5" rx="2.5"/>
<rect x="748.2" y="478" width="10" height="74.5" rx="2.5"/>
<rect x="793.65" y="404" width="10" height="148.5" rx="2.5"/>
</g>
<g fill="#ccd5e1">
<rect x="305.7" y="394.75" width="10" height="157.75" rx="2.5"/>
<rect x="351.15" y="431.75" width="10" height="120.75" rx="2.5"/>
<rect x="396.6" y="413.25" width="10" height="139.25" rx="2.5"/>
<rect x="442.05" y="481.7" width="10" height="70.8" rx="2.5"/>
<rect x="487.5" y="394.75" width="10" height="157.75" rx="2.5"/>
<rect x="532.95" y="487.25" width="10" height="65.25" rx="2.5"/>
<rect x="578.4" y="437.3" width="10" height="115.2" rx="2.5"/>
<rect x="623.85" y="478" width="10" height="74.5" rx="2.5"/>
<rect x="669.3" y="478" width="10" height="74.5" rx="2.5"/>
<rect x="714.75" y="433.6" width="10" height="118.9" rx="2.5"/>
<rect x="760.2" y="459.5" width="10" height="93" rx="2.5"/>
<rect x="805.65" y="387.35" width="10" height="165.15" rx="2.5"/>
</g>
<g font-size="10" fill="#6b7280" text-anchor="middle">
<text x="306" y="572.5">Jan</text><text x="351.5" y="572.5">Feb</text><text x="397" y="572.5">Mar</text><text x="442.4" y="572.5">Apr</text><text x="487.8" y="572.5">May</text><text x="533.3" y="572.5">Jun</text><text x="578.7" y="572.5">Jul</text><text x="624.2" y="572.5">Aug</text><text x="669.6" y="572.5">Sep</text><text x="715" y="572.5">Oct</text><text x="760.5" y="572.5">Nov</text><text x="806" y="572.5">Dec</text>
</g>

<circle cx="1350" cy="411" r="82" fill="none" stroke="#5c67f0" stroke-width="19"/>
<circle cx="1350" cy="411" r="82" fill="none" stroke="#60a5fa" stroke-width="19" stroke-dasharray="0 234.7 134.5 1000" transform="rotate(-90 1350 411)"/>
<line x1="1350" y1="319" x2="1350" y2="338" stroke="#fff" stroke-width="0.8"/>
<circle cx="1350" cy="411" r="59" fill="none" stroke="#5c67f0" stroke-width="1.5" stroke-dasharray="5 3.5"/>
<text x="1350" y="417.5" font-size="16.5" fill="#333" text-anchor="middle" stroke="#333" stroke-width="0.3">75%</text>

<line x1="623.5" y1="700" x2="623.5" y2="946" stroke="#e5e7eb"/>
<line x1="623" y1="946.5" x2="938" y2="946.5" stroke="#e5e7eb"/>
<g fill="url(#hg)">
<rect x="624" y="713" width="84" height="28" rx="1.5"/>
<rect x="624" y="753" width="98" height="28" rx="1.5"/>
<rect x="624" y="793" width="113" height="28" rx="1.5"/>
<rect x="624" y="833" width="145" height="28" rx="1.5"/>
<rect x="624" y="873" width="231" height="28" rx="1.5"/>
<rect x="624" y="913" width="289" height="28" rx="1.5"/>
</g>
<g font-size="10" fill="#444" text-anchor="end">
<text x="612" y="730.5">Facebook</text><text x="612" y="770.5">Instagram</text><text x="612" y="810.5">Dribble</text><text x="612" y="850.5">Twitter</text><text x="612" y="890.5">Chrome</text><text x="612" y="930.5">Pininterest</text>
</g>
<g font-size="10" fill="#555" text-anchor="middle">
<text x="623" y="967.5">0</text><text x="686" y="967.5">300</text><text x="749" y="967.5">600</text><text x="812" y="967.5">900</text><text x="875" y="967.5">1200</text><text x="938" y="967.5">1500</text>
</g>
</svg>

</div>
</body></html>
